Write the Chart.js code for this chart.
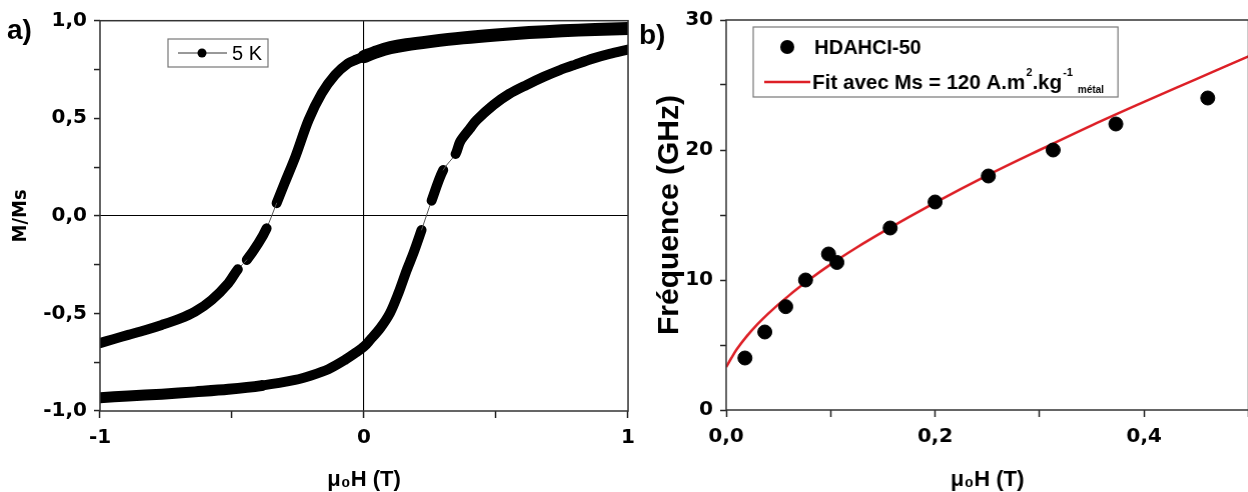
<!DOCTYPE html>
<html><head><meta charset="utf-8">
<script src="https://cdn.jsdelivr.net/npm/chart.js@4.4.1/dist/chart.umd.min.js"></script>
<style>
html,body{margin:0;padding:0;background:#fff;width:1248px;height:492px;overflow:hidden;}
#wa{position:absolute;left:0;top:0;width:640px;height:492px;}
#wb{position:absolute;left:630px;top:0;width:618px;height:492px;}
</style></head><body>
<div id="wa"><canvas id="ca"></canvas></div>
<div id="wb"><canvas id="cb"></canvas></div>
<script>
// ---------- Panel a) : hysteresis loop at 5 K ----------
const loopDownH = [1.0, 0.875, 0.75, 0.625, 0.5, 0.375, 0.25, 0.16, 0.1, 0.05, 0.0, -0.03, -0.06, -0.11, -0.16, -0.21, -0.26, -0.30, -0.331, -0.369, -0.40, -0.444, -0.478, -0.514, -0.577, -0.64, -0.70, -0.766, -0.83, -0.893, -0.95, -1.0];
const loopDownM = [0.960, 0.955, 0.948, 0.939, 0.927, 0.912, 0.893, 0.877, 0.862, 0.842, 0.816, 0.800, 0.782, 0.722, 0.628, 0.491, 0.303, 0.170, 0.065, -0.064, -0.140, -0.226, -0.274, -0.345, -0.431, -0.491, -0.528, -0.559, -0.586, -0.610, -0.632, -0.652];
const loopDownGapsAfter = [-0.331, -0.444];

const loopUpH = [-1.0, -0.893, -0.766, -0.64, -0.514, -0.388, -0.261, -0.2, -0.135, -0.072, -0.03, 0.0, 0.023, 0.061, 0.098, 0.130, 0.162, 0.187, 0.218, 0.256, 0.300, 0.347, 0.364, 0.40, 0.427, 0.490, 0.55, 0.616, 0.68, 0.742, 0.80, 0.869, 0.93, 1.0];
const loopUpM = [-0.932, -0.923, -0.914, -0.902, -0.889, -0.870, -0.841, -0.818, -0.786, -0.738, -0.700, -0.670, -0.636, -0.576, -0.499, -0.397, -0.277, -0.192, -0.072, 0.078, 0.235, 0.317, 0.380, 0.445, 0.491, 0.568, 0.625, 0.671, 0.712, 0.747, 0.775, 0.807, 0.830, 0.852];
const loopUpGapsAfter = [0.218, 0.300];

const aXTicks = [-1, -0.5, 0, 0.5, 1];
const aXLabels = ['-1', '', '0', '', '1'];
const aYTicks = [-1, -0.75, -0.5, -0.25, 0, 0.25, 0.5, 0.75, 1];
const aYLabels = ['-1,0', '', '-0,5', '', '0,0', '', '0,5', '', '1,0'];

// ---------- Panel b) : FMR frequency vs field ----------
const freqH = [0.018, 0.037, 0.057, 0.076, 0.098, 0.106, 0.157, 0.200, 0.251, 0.313, 0.373, 0.461];
const freqGHz = [4.0, 6.0, 7.95, 10.0, 12.0, 11.35, 14.0, 16.0, 18.0, 20.0, 22.0, 24.0];
const fitH = [0, 0.005, 0.01, 0.02, 0.03, 0.04, 0.06, 0.08, 0.1, 0.125, 0.15, 0.2, 0.25, 0.3, 0.35, 0.4, 0.45, 0.5];
const fitGHz = [3.3, 4.0, 4.65, 5.7, 6.6, 7.4, 8.8, 10.05, 11.2, 12.5, 13.7, 15.95, 18.05, 20.0, 21.9, 23.7, 25.45, 27.2];

const bXTicks = [0, 0.1, 0.2, 0.3, 0.4, 0.5];
const bXLabels = ['0,0', '', '0,2', '', '0,4', ''];
const bYTicks = [0, 5, 10, 15, 20, 25, 30];
const bYLabels = ['0', '', '10', '', '20', '', '30'];

// ---------- helpers ----------
const FF = "'Liberation Sans', Arial, 'DejaVu Sans', sans-serif";
const FT = "'DejaVu Sans', 'Liberation Sans', sans-serif";
const FN = "'Liberation Sans Narrow', 'DejaVu Sans Condensed', 'Liberation Sans', sans-serif";
const pts = (xs, ys) => xs.map((x, i) => ({x: x, y: ys[i]}));

const framePlugin = {
  id: 'frame',
  afterDatasetsDraw(chart, args, o) {
    const {ctx, chartArea: a} = chart;
    ctx.save();
    ctx.strokeStyle = o.color || '#333';
    ctx.lineWidth = o.width || 1.5;
    ctx.strokeRect(a.left, a.top, a.right - a.left, a.bottom - a.top);
    ctx.restore();
  }
};

const letterPlugin = {
  id: 'letter',
  afterDraw(chart, args, o) {
    const ctx = chart.ctx;
    ctx.save();
    ctx.font = 'bold ' + o.size + 'px ' + FF;
    ctx.fillStyle = '#000';
    ctx.textBaseline = 'middle';
    ctx.textAlign = 'left';
    ctx.fillText(o.text, o.x, o.y);
    ctx.restore();
  }
};

const legendA = {
  id: 'legendA',
  afterDraw(chart, args, o) {
    if (!o.enabled) return;
    const ctx = chart.ctx;
    const ds = chart.data.datasets[0];
    ctx.save();
    ctx.strokeStyle = '#777'; ctx.lineWidth = 1.2;
    ctx.strokeRect(o.x, o.y, o.w, o.h);
    const cy = o.y + o.h / 2;
    ctx.strokeStyle = '#333'; ctx.lineWidth = 1;
    ctx.beginPath(); ctx.moveTo(o.x + 10, cy); ctx.lineTo(o.x + 59, cy); ctx.stroke();
    ctx.fillStyle = '#000';
    ctx.beginPath(); ctx.arc(o.x + 34, cy, 4.5, 0, Math.PI * 2); ctx.fill();
    ctx.font = '20px ' + FF;
    ctx.textBaseline = 'middle';
    ctx.fillText(ds.label, o.x + 64, cy + 1);
    ctx.restore();
  }
};

const legendB = {
  id: 'legendB',
  afterDraw(chart, args, o) {
    if (!o.enabled) return;
    const ctx = chart.ctx;
    const d0 = chart.data.datasets[0], d1 = chart.data.datasets[1];
    ctx.save();
    ctx.textBaseline = 'middle';
    ctx.fillStyle = '#000';
    const y1 = o.y + 20, y2 = o.y + 55;
    ctx.beginPath(); ctx.arc(o.x + 34, y1, 7, 0, Math.PI * 2); ctx.fill();
    ctx.font = 'bold 20px ' + FF;
    ctx.fillText(d0.label, o.x + 61, y1 + 1);
    ctx.strokeStyle = d1.borderColor; ctx.lineWidth = 2.5;
    ctx.beginPath(); ctx.moveTo(o.x + 11, y2); ctx.lineTo(o.x + 57, y2); ctx.stroke();
    let x = o.x + 59;
    for (const part of o.parts) {
      if (part.sup) { ctx.font = 'bold 11px ' + FF; ctx.fillText(part.t, x + 1, y2 - 9); x += ctx.measureText(part.t).width + 1; }
      else if (part.sub) { ctx.font = 'bold 10px ' + FF; ctx.fillText(part.t, x + 5, y2 + 8); x += ctx.measureText(part.t).width + 5; }
      else { ctx.font = 'bold 20.5px ' + FF; ctx.fillText(part.t, x, y2 + 1); x += ctx.measureText(part.t).width; }
    }
    ctx.strokeStyle = '#777'; ctx.lineWidth = 1.2;
    ctx.strokeRect(o.x, o.y, x + 14 - o.x, o.h);
    ctx.restore();
  }
};
Chart.register(framePlugin, letterPlugin, legendA, legendB);

const setTicks = arr => s => { s.ticks = arr.map(v => ({value: v})); };
const tickFont = {family: FT, size: 20, weight: 'bold'};
const isGap = (gaps, x) => gaps.some(g => Math.abs(g - x) < 1e-9);

const chA = new Chart(document.getElementById('ca'), {
  type: 'line',
  data: {
    datasets: [
      {
        label: '5 K',
        data: pts(loopDownH, loopDownM),
        borderColor: '#000', backgroundColor: '#000',
        borderWidth: 10, pointRadius: 0, tension: 0.3,
        borderCapStyle: 'round', borderJoinStyle: 'round', clip: 0,
        segment: {
          borderWidth: c => (isGap(loopDownGapsAfter, c.p0.parsed.x) ? 1 : (c.p0.parsed.x > 0 ? 13 : 10)),
          borderColor: c => (isGap(loopDownGapsAfter, c.p0.parsed.x) ? '#555' : '#000')
        }
      },
      {
        label: '5 K',
        data: pts(loopUpH, loopUpM),
        borderColor: '#000', backgroundColor: '#000',
        borderWidth: 10, pointRadius: 0, tension: 0.3,
        borderCapStyle: 'round', borderJoinStyle: 'round', clip: 0,
        segment: {
          borderWidth: c => (isGap(loopUpGapsAfter, c.p0.parsed.x) ? 1 : (c.p0.parsed.x < -0.5 ? 11 : 10)),
          borderColor: c => (isGap(loopUpGapsAfter, c.p0.parsed.x) ? '#555' : '#000')
        }
      }
    ]
  },
  options: {
    responsive: true, maintainAspectRatio: false, animation: false,
    layout: {padding: {left: 0, right: 12, top: 20.7, bottom: 0}},
    plugins: {
      legend: {display: false}, tooltip: {enabled: false},
      frame: {color: '#333', width: 1.5},
      letter: {text: 'a)', x: 7, y: 31, size: 28},
      legendA: {enabled: true, x: 168, y: 39, w: 100, h: 28},
      legendB: {enabled: false}
    },
    scales: {
      x: {
        type: 'linear', min: -1, max: 1,
        afterBuildTicks: setTicks(aXTicks),
        afterFit: s => { s.height = 81; },
        border: {display: false},
        grid: {color: c => (c.tick && c.tick.value === 0 ? '#000' : 'rgba(0,0,0,0)'), lineWidth: 1.1, tickColor: '#222', tickLength: 7, tickWidth: 1.5},
        ticks: {autoSkip: false, maxRotation: 0, padding: 8, color: '#000', font: tickFont, callback: (v, i) => aXLabels[i]},
        title: {display: true, text: 'μ₀H (T)', color: '#000', font: {family: FF, size: 22, weight: 'bold'}, padding: {top: 0, bottom: -1}}
      },
      y: {
        type: 'linear', min: -1, max: 1,
        afterBuildTicks: setTicks(aYTicks),
        afterFit: s => { s.width = 100; },
        border: {display: false},
        grid: {color: c => (c.tick && c.tick.value === 0 ? '#000' : 'rgba(0,0,0,0)'), lineWidth: 1.1, tickColor: '#222', tickLength: 6, tickWidth: 1.5},
        ticks: {autoSkip: false, padding: 7, color: '#000', font: tickFont, callback: (v, i) => aYLabels[i]},
        title: {display: true, text: 'M/Ms', color: '#000', font: {family: FN, size: 20, weight: 'bold'}, padding: {top: 9, bottom: 0}}
      }
    }
  }
});

const chB = new Chart(document.getElementById('cb'), {
  type: 'line',
  data: {
    datasets: [
      {
        label: 'HDAHCI-50',
        data: pts(freqH, freqGHz),
        showLine: false, pointRadius: 7, pointHoverRadius: 7,
        pointBackgroundColor: '#000', pointBorderColor: '#000', borderColor: '#000', order: 0
      },
      {
        label: 'Fit avec Ms = 120 A.m².kg⁻¹ métal',
        data: pts(fitH, fitGHz),
        borderColor: '#dd1f26', borderWidth: 2.5, pointRadius: 0,
        cubicInterpolationMode: 'monotone', clip: 0, order: 1
      }
    ]
  },
  options: {
    responsive: true, maintainAspectRatio: false, animation: false,
    layout: {padding: {left: 0, right: 0.5, top: 20, bottom: 0}},
    plugins: {
      legend: {display: false}, tooltip: {enabled: false},
      frame: {color: '#333', width: 1.5},
      letter: {text: 'b)', x: 9, y: 36, size: 28},
      legendA: {enabled: false},
      legendB: {enabled: true, x: 123, y: 27, h: 70,
        parts: [{t: 'Fit avec Ms = 120 A.m'}, {t: '2', sup: true}, {t: '.kg'}, {t: '-1', sup: true}, {t: 'métal', sub: true}]}
    },
    scales: {
      x: {
        type: 'linear', min: 0, max: 0.5,
        afterBuildTicks: setTicks(bXTicks),
        afterFit: s => { s.height = 82; },
        border: {display: false},
        grid: {drawOnChartArea: false, tickColor: '#222', tickLength: 7, tickWidth: 1.5},
        ticks: {autoSkip: false, maxRotation: 0, padding: 8, color: '#000', font: tickFont, callback: (v, i) => bXLabels[i]},
        title: {display: true, text: 'μ₀H (T)', color: '#000', font: {family: FF, size: 22, weight: 'bold'}, padding: {top: 0, bottom: -1}}
      },
      y: {
        type: 'linear', min: 0, max: 30,
        afterBuildTicks: setTicks(bYTicks),
        afterFit: s => { s.width = 96; },
        border: {display: false},
        grid: {drawOnChartArea: false, tickColor: '#222', tickLength: 6, tickWidth: 1.5},
        ticks: {autoSkip: false, padding: 7, color: '#000', font: tickFont, callback: (v, i) => bYLabels[i]},
        title: {display: true, text: 'Fréquence (GHz)', color: '#000', font: {family: FF, size: 30, weight: 'bold'}, padding: {top: 22, bottom: 0}}
      }
    }
  }
});

// Keep each plot frame's right edge where the reference has it: widen the holder by whatever
// margin Chart.js reserves on the right, so the scale spans exactly the wanted pixels.
function fitRight(chart, holder, baseWidth, wantRight) {
  const extra = wantRight - chart.chartArea.right;
  if (Math.abs(extra) > 0.2) {
    holder.style.width = (baseWidth + extra) + 'px';
    chart.resize();
  }
}
fitRight(chA, document.getElementById('wa'), 640, 628);
fitRight(chB, document.getElementById('wb'), 618, 617.5);
</script>
</body></html>
